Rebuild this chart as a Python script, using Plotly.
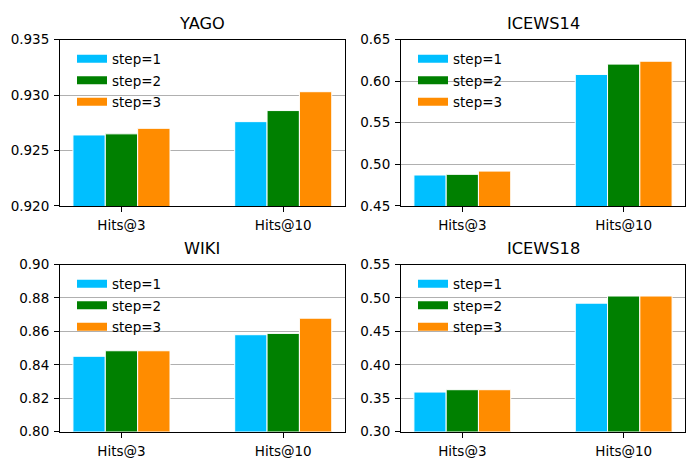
import plotly.graph_objects as go

categories = ["Hits@3", "Hits@10"]
series_names = ["step=1", "step=2", "step=3"]
colors = ["#00BFFF", "#008000", "#FF8C00"]

titles = ["YAGO", "ICEWS14", "WIKI", "ICEWS18"]
yago = [[0.9264, 0.9276], [0.9265, 0.9286], [0.9270, 0.9303]]
icews14 = [[0.4872, 0.6081], [0.4880, 0.6205], [0.4919, 0.6240]]
wiki = [[0.8451, 0.8580], [0.8484, 0.8588], [0.8484, 0.8679]]
icews18 = [[0.3592, 0.4922], [0.3627, 0.5029], [0.3627, 0.5029]]
datasets = [yago, icews14, wiki, icews18]

y_ranges = [[0.920, 0.935], [0.45, 0.65], [0.80, 0.90], [0.30, 0.55]]
y_dticks = [0.005, 0.05, 0.02, 0.05]
y_formats = [".3f", ".2f", ".2f", ".2f"]

W, H = 686, 465
# panel boxes in pixels: (left, right, top, bottom)
boxes = [(60, 344.7, 32.7, 205), (401, 685, 32.7, 205),
         (60, 344.7, 265.7, 438.7), (401, 685, 265.7, 438.7)]

FONT = "DejaVu Sans"
TXT = "black"
fig = go.Figure()
layout = dict(width=W, height=H, margin=dict(l=0, r=0, t=0, b=0),
              paper_bgcolor="white", plot_bgcolor="white",
              barmode="group", bargap=0.4, bargroupgap=0.0,
              font=dict(family=FONT, size=13.5, color=TXT),
              annotations=[])

for i, data in enumerate(datasets):
    k = "" if i == 0 else str(i + 1)
    leg = "legend" + k
    for s, name in enumerate(series_names):
        fig.add_trace(go.Bar(
            x=categories, y=data[s], name=name, showlegend=False,
            marker=dict(color=colors[s], line=dict(color="white", width=1)),
            xaxis="x" + k, yaxis="y" + k, offsetgroup=str(s)))
    for s, name in enumerate(series_names):
        # legend-only handle (wide rectangular patch like the original)
        fig.add_trace(go.Scatter(
            x=[None], y=[None], name=name, mode="lines",
            line=dict(color=colors[s], width=8),
            xaxis="x" + k, yaxis="y" + k, legend=leg,
            legendgroup=leg + name, hoverinfo="skip"))
    l, r, t, b = boxes[i]
    xd = [l / W, r / W]
    yd = [1 - b / H, 1 - t / H]
    common = dict(showline=True, linecolor="black", linewidth=1, mirror=True,
                  ticks="outside", ticklen=5, tickwidth=1, tickcolor="black",
                  ticklabelstandoff=2,
                  tickfont=dict(family=FONT, size=13.5, color=TXT))
    layout["xaxis" + k] = dict(domain=xd, anchor="y" + k, type="category",
                               range=[-0.38, 1.38], showgrid=False, **common)
    layout["yaxis" + k] = dict(domain=yd, anchor="x" + k, range=y_ranges[i],
                               dtick=y_dticks[i], tick0=0, tickformat=y_formats[i],
                               showgrid=True, gridcolor="#b0b0b0", gridwidth=1,
                               zeroline=False, layer="above traces", **common)
    layout[leg] = dict(x=(l + 12) / W, y=1 - (t + 4) / H, xanchor="left",
                       yanchor="top", bgcolor="rgba(0,0,0,0)", borderwidth=0,
                       tracegroupgap=1, itemwidth=30,
                       font=dict(family=FONT, size=13.5, color=TXT))
    layout["annotations"].append(dict(
        text=titles[i], x=(l + r) / 2 / W, y=1 - (t - 17) / H,
        xref="paper", yref="paper", showarrow=False, xanchor="center",
        yanchor="middle", font=dict(family=FONT, size=16.2, color=TXT)))

fig.update_layout(**layout)
fig.write_html(
    "out.html",
    config={"displayModeBar": False, "staticPlot": True},
    post_script=("document.documentElement.style.margin='0';"
                 "document.documentElement.style.overflow='hidden';"
                 "document.body.style.margin='0';"
                 "document.body.style.padding='0';"
                 "document.body.style.overflow='hidden';"
                 "window.scrollTo(0,0);"))
